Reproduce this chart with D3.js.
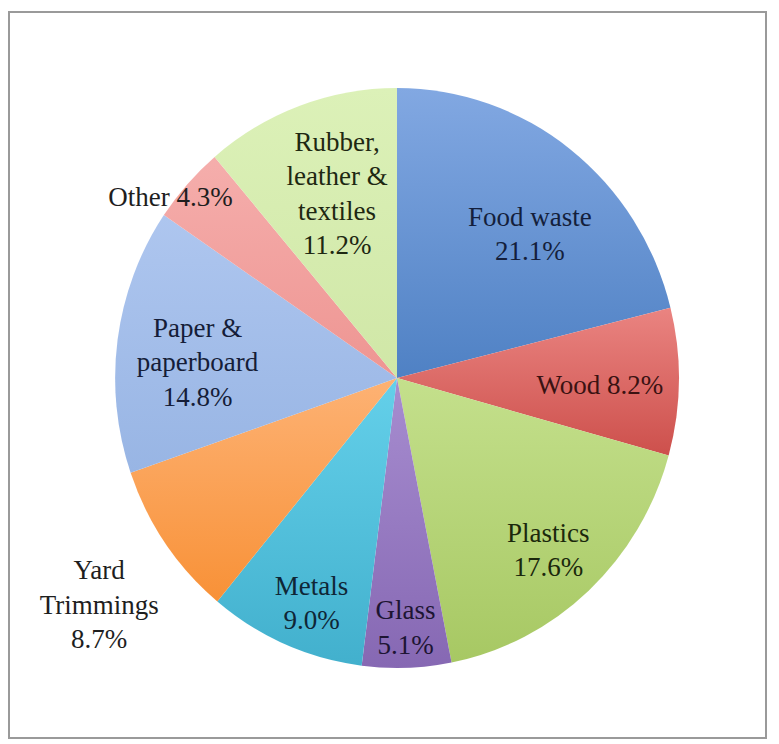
<!DOCTYPE html>
<html>
<head>
<meta charset="utf-8">
<script src="https://cdn.jsdelivr.net/npm/d3@7"></script>
<style>
  html, body { margin: 0; padding: 0; background: #fff; }
  svg { display: block; }
</style>
</head>
<body>
<svg id="chart"></svg>
<script>
// Slices, clockwise from 12 o'clock
const categories = ['Food waste', 'Wood', 'Plastics', 'Glass', 'Metals',
                    'Yard Trimmings', 'Paper & paperboard', 'Other', 'Rubber, leather & textiles'];
const shares = [21.1, 8.2, 17.6, 5.1, 9.0, 8.7, 14.8, 4.3, 11.2];
// how each label is broken into lines
const labelLines = [
  ['Food waste', '21.1%'],
  ['Wood 8.2%'],
  ['Plastics', '17.6%'],
  ['Glass', '5.1%'],
  ['Metals', '9.0%'],
  ['Yard', 'Trimmings', '8.7%'],
  ['Paper &', 'paperboard', '14.8%'],
  ['Other 4.3%'],
  ['Rubber,', 'leather &', 'textiles', '11.2%']
];

// slice colours: [top, bottom] of the vertical gradient
const colors = [
  ['#82a8e2', '#4f81c4'],
  ['#ea8481', '#cd504c'],
  ['#c4e08c', '#a7c863'],
  ['#a78dd0', '#8668b3'],
  ['#64d0ea', '#42b0cd'],
  ['#fdb274', '#f89137'],
  ['#aec6ef', '#98b5e4'],
  ['#f5aeac', '#ee9592'],
  ['#dcf1b8', '#d0e7a7']
];
// label text colour per slice (dark tint of the slice)
const textColors = ['#141f3c', '#3a1212', '#1b280c', '#1d1533', '#0f2636',
                    '#1e1e1e', '#151d38', '#1e1e1e', '#1e2812'];
// label placement: radius as fraction of pie radius, and angle nudge in degrees
const labelRadius = [0.676, 0.70, 0.79, 0.86, 0.83, 1.29, 0.69, 1.0, 0.67];
const labelNudge  = [4.7, 1.3, 1.5, 0, -2.6, -2.5, -3.0, -3.3, 2.2];

const width = 779, height = 744;
const cx = 397, cy = 378, r = 290, sx = 0.972;
const fontSize = 27, lineH = 34.5;

const svg = d3.select('#chart').attr('width', width).attr('height', height);

// frame
svg.append('rect')
    .attr('x', 9).attr('y', 12)
    .attr('width', 757).attr('height', 726)
    .attr('fill', '#fff')
    .attr('stroke', '#9a9a9a')
    .attr('stroke-width', 2);

const defs = svg.append('defs');
colors.forEach(function(c, i) {
  let grad = defs.append('linearGradient')
      .attr('id', 'g' + i)
      .attr('x1', 0).attr('y1', 0).attr('x2', 0).attr('y2', 1);
  grad.append('stop').attr('offset', '0%').attr('stop-color', c[0]);
  grad.append('stop').attr('offset', '100%').attr('stop-color', c[1]);
});

const pie = d3.pie().sort(null).value(function(d) { return d; });
const arcs = pie(shares);
const arc = d3.arc().innerRadius(0).outerRadius(r);

svg.append('g')
    .attr('transform', 'translate(' + cx + ',' + cy + ') scale(' + sx + ',1)')
    .selectAll('path')
    .data(arcs)
    .enter().append('path')
    .attr('d', arc)
    .attr('fill', function(d, i) { return 'url(#g' + i + ')'; });

// labels
const labels = svg.append('g')
    .attr('font-family', '"Liberation Serif", "DejaVu Serif", serif')
    .attr('font-size', fontSize + 'px')
    .attr('text-anchor', 'middle');

arcs.forEach(function(d, i) {
  let a = (d.startAngle + d.endAngle) / 2 + labelNudge[i] * Math.PI / 180;
  let R = labelRadius[i] * r;
  let x = cx + Math.sin(a) * R;
  let y = cy - Math.cos(a) * R;
  let lines = labelLines[i];
  let t = labels.append('text')
      .attr('fill', textColors[i]);
  lines.forEach(function(line, j) {
    t.append('tspan')
        .attr('x', x)
        .attr('y', y + (j - (lines.length - 1) / 2) * lineH + fontSize * 0.34)
        .text(line);
  });
});
</script>
</body>
</html>
